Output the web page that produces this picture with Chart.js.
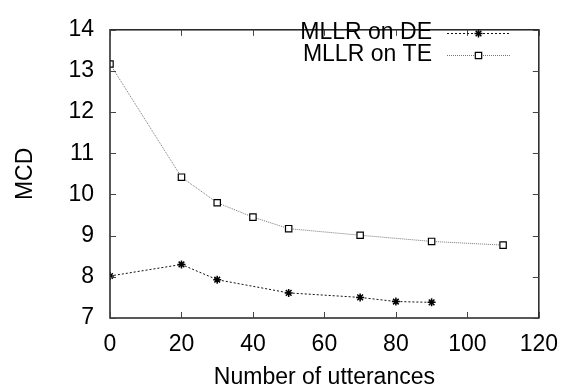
<!DOCTYPE html>
<html>
<head>
<meta charset="utf-8">
<script src="https://cdn.jsdelivr.net/npm/chart.js@4.4.0/dist/chart.umd.min.js"></script>
<style>
  html, body { margin: 0; padding: 0; background: #fff; }
  #wrap { width: 571px; height: 389px; }
</style>
</head>
<body>
<div id="wrap"><canvas id="chart"></canvas></div>
<script>
// utterance counts and MCD values per adaptation setup
const xTicks = [0, 20, 40, 60, 80, 100, 120];
const yTicks = [7, 8, 9, 10, 11, 12, 13, 14];

const deUtts = [0, 20, 30, 50, 70, 80, 90];
const deMcd = [8.02, 8.30, 7.93, 7.61, 7.50, 7.40, 7.38];

const teUtts = [0, 20, 30, 40, 50, 70, 90, 110];
const teMcd = [13.17, 10.42, 9.80, 9.45, 9.17, 9.01, 8.86, 8.77];

const FONT = 'Liberation Sans, Arial, sans-serif';
const FSIZE = 23;

function toPoints(xs, ys) {
  return xs.map((x, i) => ({ x: x, y: ys[i] }));
}

// box around the plot with inward ticks on all four sides
const framePlugin = {
  id: 'frame',
  afterDatasetsDraw(chart) {
    const { ctx, chartArea: a, scales } = chart;
    ctx.save();
    ctx.strokeStyle = '#222';
    ctx.lineWidth = 1.5;
    ctx.strokeRect(a.left, a.top, a.right - a.left, a.bottom - a.top);
    ctx.lineWidth = 1;
    ctx.strokeStyle = '#444';
    const len = 6;
    xTicks.forEach(v => {
      const px = Math.round(scales.x.getPixelForValue(v)) + 0.5;
      ctx.beginPath();
      ctx.moveTo(px, a.bottom); ctx.lineTo(px, a.bottom - len);
      ctx.moveTo(px, a.top); ctx.lineTo(px, a.top + len);
      ctx.stroke();
    });
    yTicks.forEach(v => {
      const py = Math.round(scales.y.getPixelForValue(v)) + 0.5;
      ctx.beginPath();
      ctx.moveTo(a.left, py); ctx.lineTo(a.left + len, py);
      ctx.moveTo(a.right, py); ctx.lineTo(a.right - len, py);
      ctx.stroke();
    });
    ctx.restore();
  }
};

// key in the top right: right-aligned label, then line sample with marker
const keyPlugin = {
  id: 'key',
  afterDraw(chart) {
    const { ctx } = chart;
    const textRight = 432, x0 = 447, x1 = 510;
    const rows = [33, 55];
    ctx.save();
    ctx.font = FSIZE + 'px ' + FONT;
    ctx.textAlign = 'right';
    ctx.textBaseline = 'middle';
    chart.data.datasets.forEach((ds, i) => {
      const y = rows[i] + 0.5;
      const c = (x0 + x1) / 2;
      ctx.fillStyle = '#000';
      ctx.fillText(ds.label, textRight, rows[i]);
      ctx.strokeStyle = ds.borderColor;
      ctx.lineWidth = ds.borderWidth;
      ctx.setLineDash(ds.borderDash);
      ctx.beginPath();
      ctx.moveTo(x0, y); ctx.lineTo(x1, y);
      ctx.stroke();
      ctx.setLineDash([]);
      ctx.fillStyle = ds.pointBackgroundColor;
      ctx.strokeStyle = ds.pointBorderColor;
      ctx.lineWidth = ds.pointBorderWidth;
      Chart.helpers.drawPoint(ctx, {
        pointStyle: ds.pointStyle,
        radius: ds.pointRadius,
        borderWidth: ds.pointBorderWidth,
        rotation: 0
      }, c, y);
    });
    ctx.restore();
  }
};

new Chart(document.getElementById('chart'), {
  type: 'scatter',
  data: {
    datasets: [
      {
        label: 'MLLR on DE',
        data: toPoints(deUtts, deMcd),
        showLine: true,
        borderColor: '#111',
        borderWidth: 1,
        borderDash: [2, 2],
        pointStyle: 'star',
        pointRadius: 4,
        pointBorderColor: '#000',
        pointBackgroundColor: '#000',
        pointBorderWidth: 1.5
      },
      {
        label: 'MLLR on TE',
        data: toPoints(teUtts, teMcd),
        showLine: true,
        borderColor: '#777',
        borderWidth: 1,
        borderDash: [1, 1],
        pointStyle: 'rect',
        pointRadius: 4.5,
        pointBorderColor: '#000',
        pointBackgroundColor: '#fff',
        pointBorderWidth: 1.2
      }
    ]
  },
  options: {
    responsive: true,
    maintainAspectRatio: false,
    animation: false,
    layout: { padding: { top: 15, right: 32, left: 0, bottom: 0 } },
    plugins: {
      legend: { display: false },
      tooltip: { enabled: false }
    },
    scales: {
      x: {
        type: 'linear',
        min: 0,
        max: 120,
        afterFit(scale) { scale.height = 71; },
        afterBuildTicks(scale) { scale.ticks = xTicks.map(v => ({ value: v })); },
        grid: { display: false, drawTicks: false },
        border: { display: false },
        ticks: { color: '#000', font: { family: FONT, size: FSIZE }, padding: 13 },
        title: {
          display: true,
          text: 'Number of utterances',
          color: '#000',
          font: { family: FONT, size: FSIZE, lineHeight: 1 },
          padding: { top: 0, bottom: 0 }
        }
      },
      y: {
        type: 'linear',
        min: 7,
        max: 14,
        afterFit(scale) { scale.width = 110; },
        afterBuildTicks(scale) { scale.ticks = yTicks.map(v => ({ value: v })); },
        grid: { display: false, drawTicks: false },
        border: { display: false },
        ticks: { color: '#000', font: { family: FONT, size: FSIZE }, padding: 16 },
        title: {
          display: true,
          text: 'MCD',
          color: '#000',
          font: { family: FONT, size: FSIZE, lineHeight: 1 },
          padding: { top: 14, bottom: 0 }
        }
      }
    }
  },
  plugins: [framePlugin, keyPlugin]
});
</script>
</body>
</html>
